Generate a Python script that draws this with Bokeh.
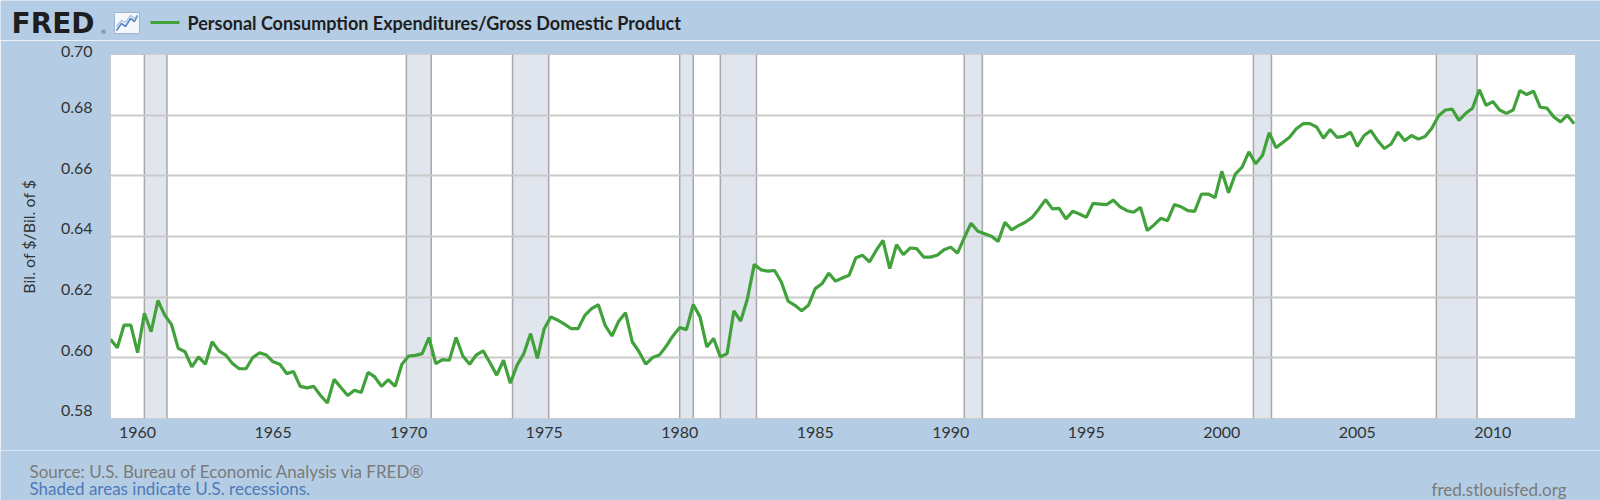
from bokeh.plotting import figure
from bokeh.layouts import column
from bokeh.models import FixedTicker, Range1d, NumeralTickFormatter
from bokeh.core.properties import value
from bokeh.embed import file_html
from bokeh.resources import INLINE

# ---- data (quarterly, 1959Q1 .. 2013Q1) ----
first_year = 1959
pce_gdp_1959_1969 = [
    0.6061, 0.6033, 0.6108, 0.6108, 0.6017, 0.6147, 0.6086, 0.6189, 0.6141, 0.6110,
    0.6031, 0.6020, 0.5970, 0.6003, 0.5979, 0.6053, 0.6023, 0.6009, 0.5981, 0.5964,
    0.5964, 0.6001, 0.6017, 0.6009, 0.5987, 0.5979, 0.5948, 0.5955, 0.5906, 0.5901,
    0.5906, 0.5876, 0.5851, 0.5929, 0.5902, 0.5876, 0.5893, 0.5886, 0.5952, 0.5937,
    0.5906, 0.5928, 0.5906, 0.5979,
]
pce_gdp_1970_1979 = [
    0.6006, 0.6008, 0.6014, 0.6067, 0.5981, 0.5994, 0.5992, 0.6067, 0.6006, 0.5979,
    0.6010, 0.6023, 0.5984, 0.5943, 0.5992, 0.5916, 0.5976, 0.6014, 0.6080, 0.5998,
    0.6096, 0.6135, 0.6124, 0.6111, 0.6096, 0.6096, 0.6140, 0.6162, 0.6175, 0.6107,
    0.6072, 0.6121, 0.6149, 0.6053, 0.6020, 0.5979, 0.6001, 0.6009, 0.6038, 0.6072,
]
pce_gdp_1980_1989 = [
    0.6100, 0.6093, 0.6176, 0.6135, 0.6036, 0.6064, 0.6003, 0.6014, 0.6155, 0.6121,
    0.6195, 0.6308, 0.6290, 0.6286, 0.6288, 0.6250, 0.6187, 0.6173, 0.6155, 0.6173,
    0.6228, 0.6244, 0.6279, 0.6253, 0.6263, 0.6272, 0.6330, 0.6338, 0.6316, 0.6354,
    0.6387, 0.6294, 0.6373, 0.6340, 0.6362, 0.6360, 0.6332, 0.6332, 0.6338, 0.6356,
]
pce_gdp_1990_1999 = [
    0.6365, 0.6345, 0.6396, 0.6444, 0.6417, 0.6409, 0.6401, 0.6384, 0.6447, 0.6422,
    0.6436, 0.6447, 0.6463, 0.6491, 0.6521, 0.6491, 0.6493, 0.6458, 0.6483, 0.6474,
    0.6463, 0.6509, 0.6507, 0.6505, 0.6520, 0.6498, 0.6485, 0.6480, 0.6496, 0.6420,
    0.6438, 0.6460, 0.6452, 0.6505, 0.6498, 0.6485, 0.6483, 0.6540, 0.6540, 0.6528,
]
pce_gdp_2000_2013 = [
    0.6615, 0.6544, 0.6606, 0.6629, 0.6679, 0.6640, 0.6667, 0.6742, 0.6693, 0.6710,
    0.6727, 0.6755, 0.6772, 0.6772, 0.6761, 0.6724, 0.6753, 0.6727, 0.6730, 0.6744,
    0.6697, 0.6733, 0.6749, 0.6716, 0.6690, 0.6705, 0.6744, 0.6716, 0.6733, 0.6721,
    0.6730, 0.6757, 0.6798, 0.6817, 0.6820, 0.6783, 0.6806, 0.6823, 0.6884, 0.6832,
    0.6845, 0.6817, 0.6806, 0.6817, 0.6881, 0.6868, 0.6879, 0.6826, 0.6823, 0.6794,
    0.6778, 0.6800, 0.6772,
]
values = (pce_gdp_1959_1969 + pce_gdp_1970_1979 + pce_gdp_1980_1989
          + pce_gdp_1990_1999 + pce_gdp_2000_2013)
dates = [first_year + q / 4.0 for q in range(len(values))]

# NBER recessions (peak month .. trough month, decimal years)
rec_start = [1960.25, 1969.917, 1973.833, 1980.0, 1981.5, 1990.5, 2001.167, 2007.917]
rec_end = [1961.083, 1970.833, 1975.167, 1980.5, 1982.833, 1991.167, 2001.833, 2009.417]

x_ticks = [1960, 1965, 1970, 1975, 1980, 1985, 1990, 1995, 2000, 2005, 2010]
y_ticks = [0.58, 0.60, 0.62, 0.64, 0.66, 0.68, 0.70]
y_labels = ["0.58", "0.60", "0.62", "0.64", "0.66", "0.68", "0.70"]
y_min, y_max = 0.58, 0.70

logo_text = "FRED"
title_text = "Personal Consumption Expenditures/Gross Domestic Product"
y_label = "Bil. of $/Bil. of $"
source_text = "Source: U.S. Bureau of Economic Analysis via FRED\u00ae"
shade_text = "Shaded areas indicate U.S. recessions."
site_text = "fred.stlouisfed.org"

# ---- styling / layout constants ----
BG = "#b4cde4"
GREEN = "#41a23b"
FONT = "Lato"
W = 1600
HEADER_H, MAIN_H, FOOTER_H = 40, 410, 50


def strip(h):
    f = figure(width=W, height=h, x_range=Range1d(0, W), y_range=Range1d(0, h),
               output_backend="svg", toolbar_location=None,
               x_axis_location=None, y_axis_location=None,
               min_border=0, min_border_left=0, min_border_right=0,
               min_border_top=0, min_border_bottom=0, frame_align=False,
               background_fill_color=BG, border_fill_color=BG)
    f.grid.visible = False
    f.outline_line_color = None
    return f


# ---- header: logo, legend swatch, series title ----
head = strip(HEADER_H)
head.text(x=[11], y=[17], text=[logo_text], text_font=value("DejaVu Sans"),
          text_font_style="bold", text_font_size=value("28px"), text_color="#1e1e1e",
          text_baseline="middle")
head.text(x=[100], y=[9], text=["\u00ae"], text_font=value("DejaVu Sans"),
          text_font_size=value("6px"), text_color="#555555", text_baseline="middle")
head.quad(left=[114], right=[139], top=[28], bottom=[7],
          fill_color="#f4f7fb", line_color="#9db5d3", line_width=1)
head.line(x=[116, 121, 125, 130, 134, 137], y=[10, 17, 14, 22, 19, 25],
          line_color="#5b86c4", line_width=1.6)
head.line(x=[116, 121, 125, 130, 134, 137], y=[14, 20, 18, 25, 22, 26],
          line_color="#a3bfe2", line_width=1.2)
head.segment(x0=[150], x1=[179], y0=[18], y1=[18], line_color=GREEN, line_width=3)
head.text(x=[187], y=[18], text=[title_text], text_font=value(FONT),
          text_font_style="bold", text_font_size=value("18px"), text_color="#1e1e1e",
          text_baseline="middle")

# ---- main chart ----
p = figure(width=W, height=MAIN_H,
           x_range=Range1d(dates[0], dates[-1] + 0.05), y_range=Range1d(y_min, y_max),
           output_backend="svg", toolbar_location=None, frame_align=False,
           background_fill_color="white", border_fill_color=BG,
           min_border_left=110, min_border_right=25, min_border_top=14, min_border_bottom=32)
p.outline_line_color = "#c8c8c8"
p.outline_line_width = 1

p.quad(left=rec_start, right=rec_end, bottom=y_min, top=y_max,
       fill_color="#e1e6ee", line_alpha=0, level="image")
p.segment(x0=rec_start, x1=rec_start, y0=y_min, y1=y_max, line_color="#a8a8a8",
          line_width=1.5, level="image")
p.segment(x0=rec_end, x1=rec_end, y0=y_min, y1=y_max, line_color="#a8a8a8",
          line_width=1.5, level="image")

p.line(dates, values, line_color=GREEN, line_width=3.2)

p.xgrid.visible = False
p.ygrid.grid_line_color = "#cacaca"
p.ygrid.grid_line_width = 2
p.ygrid.ticker = FixedTicker(ticks=y_ticks)

for ax in (p.xaxis[0], p.yaxis[0]):
    ax.axis_line_color = None
    ax.major_tick_line_color = None
    ax.minor_tick_line_color = None
    ax.major_tick_out = 0
    ax.major_tick_in = 0
    ax.major_label_text_font = FONT
    ax.major_label_text_font_size = "16px"
    ax.major_label_text_color = "#333333"

p.xaxis.ticker = FixedTicker(ticks=x_ticks)
p.xaxis.major_label_standoff = 8
p.yaxis.ticker = FixedTicker(ticks=y_ticks)
p.yaxis.formatter = NumeralTickFormatter(format="0.00")
# FRED draws the value labels just above their grid lines
p.yaxis.major_label_overrides = {t: lab + "\n " for t, lab in zip(y_ticks, y_labels)}
p.yaxis.major_label_text_line_height = 0.9
p.yaxis.major_label_standoff = 18
p.yaxis.axis_label = y_label
p.yaxis.axis_label_text_font = FONT
p.yaxis.axis_label_text_font_size = "16px"
p.yaxis.axis_label_text_font_style = "normal"
p.yaxis.axis_label_text_color = "#333333"
p.yaxis.axis_label_standoff = 20

# ---- footer ----
foot = strip(FOOTER_H)
foot.text(x=[29], y=[29], text=[source_text], text_font=value(FONT),
          text_font_size=value("17px"), text_color="#7a7a7a", text_baseline="middle")
foot.text(x=[29], y=[12], text=[shade_text], text_font=value(FONT),
          text_font_size=value("17px"), text_color="#4f79b7", text_baseline="middle")
foot.text(x=[1566], y=[11], text=[site_text], text_font=value(FONT),
          text_font_size=value("17px"), text_color="#7a7a7a", text_baseline="middle",
          text_align="right")

layout = column(head, p, foot, spacing=0)
open("out.html", "w").write(file_html(layout, INLINE))
